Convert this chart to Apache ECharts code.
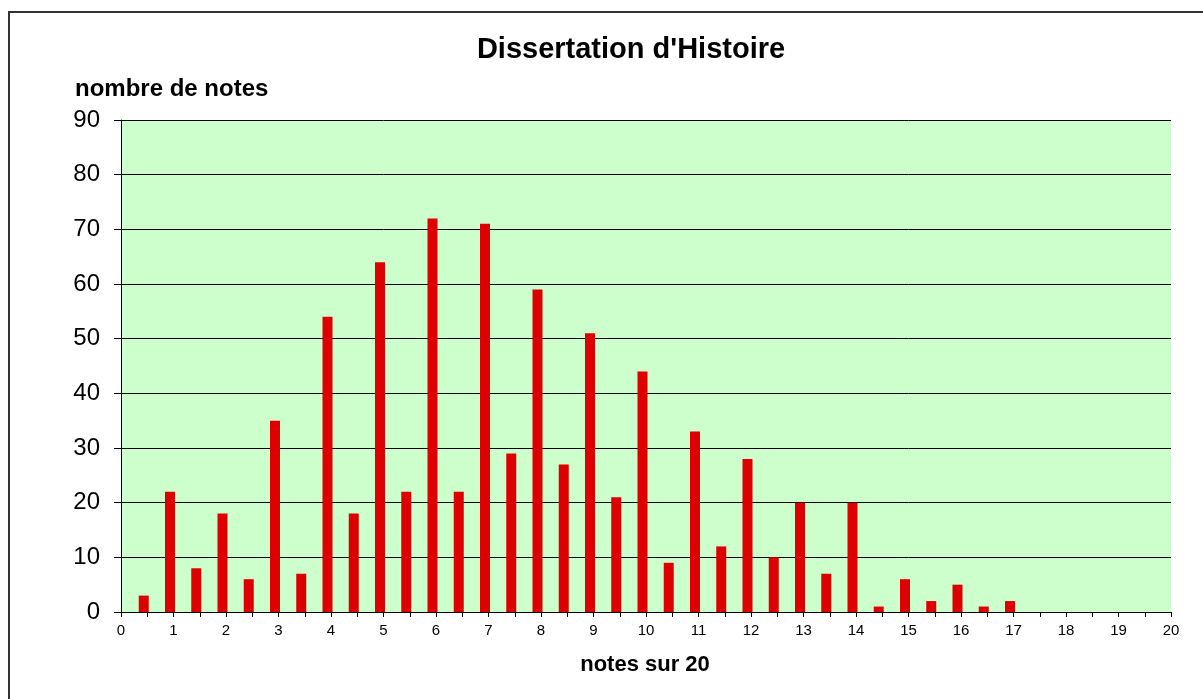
<!DOCTYPE html>
<html>
<head>
<meta charset="utf-8">
<title>Dissertation d'Histoire</title>
<script src="https://cdn.jsdelivr.net/npm/echarts@6/dist/echarts.min.js"></script>
<style>
  html, body { margin: 0; padding: 0; background: #fff; }
  #chart { width: 1203px; height: 699px; }
</style>
</head>
<body>
<div id="chart"></div>
<script>
// notes sur 20 (par demi-point) et nombre de copies
const notes = [0.5, 1, 1.5, 2, 2.5, 3, 3.5, 4, 4.5, 5, 5.5, 6, 6.5, 7, 7.5, 8, 8.5,
  9, 9.5, 10, 10.5, 11, 11.5, 12, 12.5, 13, 13.5, 14, 14.5, 15, 15.5, 16, 16.5, 17];
const nombres = [3, 22, 8, 18, 6, 35, 7, 54, 18, 64, 22, 72, 22, 71, 29, 59, 27,
  51, 21, 44, 9, 33, 12, 28, 10, 20, 7, 20, 1, 6, 2, 5, 1, 2];

const font = "'Liberation Sans', Arial, sans-serif";
const chart = echarts.init(document.getElementById('chart'));

const option = {
  animation: false,
  grid: {
    left: 121, top: 120, width: 1050, height: 492,
    show: true, backgroundColor: '#ccffcc', borderWidth: 0
  },
  xAxis: [
    {
      type: 'value', min: 0, max: 20, interval: 1,
      axisLine: { lineStyle: { color: '#000', width: 1 } },
      axisTick: { length: 5, lineStyle: { color: '#000' } },
      minorTick: { show: true, splitNumber: 2, length: 5, lineStyle: { color: '#000' } },
      splitLine: { show: false },
      axisLabel: { fontSize: 15, color: '#000', fontFamily: font, margin: 11 }
    },
    {
      // same scale, nudged so the bars sit just left of their tick like the original
      type: 'value', min: 0.0667, max: 20.0667, show: false
    }
  ],
  yAxis: {
    type: 'value', min: 0, max: 90, interval: 10,
    axisLine: { show: true, lineStyle: { color: '#000', width: 1 } },
    axisTick: { show: true, length: 7, lineStyle: { color: '#000' } },
    splitLine: { lineStyle: { color: '#000', width: 1 } },
    axisLabel: { fontSize: 24, color: '#000', fontFamily: font, margin: 21 }
  },
  series: [{
    type: 'bar',
    xAxisIndex: 1,
    barWidth: 10,
    itemStyle: { color: '#dd0000' },
    data: notes.map((n, i) => [n, nombres[i]])
  }],
  graphic: [
    {
      type: 'rect', silent: true,
      shape: { x: 9, y: 12, width: 1400, height: 900 },
      style: { fill: null, stroke: '#333', lineWidth: 2 }
    },
    {
      type: 'text', x: 631, y: 50,
      style: { text: "Dissertation d'Histoire", font: 'bold 29px ' + font,
        fill: '#000', textAlign: 'center', textVerticalAlign: 'middle' }
    },
    {
      type: 'text', x: 75, y: 89,
      style: { text: 'nombre de notes', font: 'bold 24px ' + font,
        fill: '#000', textAlign: 'left', textVerticalAlign: 'middle' }
    },
    {
      type: 'text', x: 645, y: 665,
      style: { text: 'notes sur 20', font: 'bold 22px ' + font,
        fill: '#000', textAlign: 'center', textVerticalAlign: 'middle' }
    }
  ]
};

chart.setOption(option);
window.addEventListener('resize', () => chart.resize());
</script>
</body>
</html>
